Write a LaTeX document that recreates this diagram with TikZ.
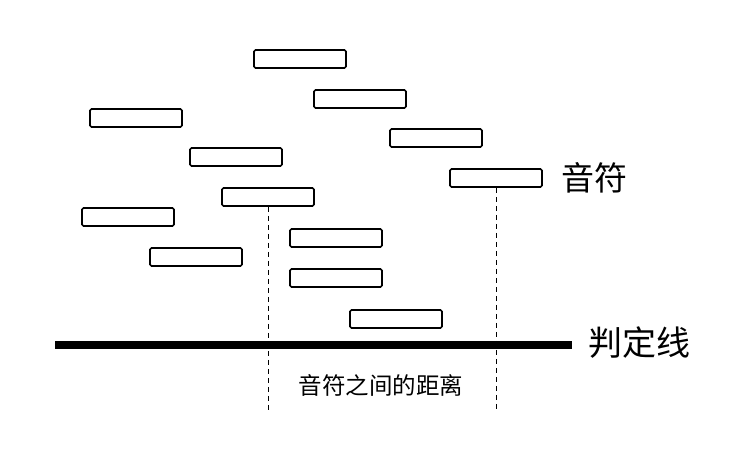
\documentclass[tikz,border=0pt]{standalone}
\usepackage{fontspec}
\newfontfamily\cjk{Noto Sans CJK SC}
\usetikzlibrary{positioning}
\tikzset{
  notebox/.style={draw, line width=1.6pt, rounded corners=1.5pt, minimum width=92pt, minimum height=18pt, inner sep=0pt},
  gapline/.style={line width=1pt, dash pattern=on 5pt off 4pt}
}

\begin{document}
\begin{tikzpicture}[x=1pt, y=-1pt]
  \useasboundingbox (0,0) rectangle (752,464);
  % notes falling towards the line
  \foreach \i/\x/\y in {1/300/59, 2/360/99, 3/136/118, 4/436/138, 5/236/157, 6/496/178,
                        7/268/197, 8/128/217, 9/336/238, 10/196/257, 11/336/278, 12/396/319}
    \node[notebox] (n\i) at (\x,\y) {};
  \node[anchor=west, inner sep=0pt, font=\cjk\fontsize{33}{36}\selectfont] (notelabel) at (561,178) {音符};
  % judgement line
  \coordinate (lineL) at (55,345);
  \coordinate (lineR) at (572,345);
  \draw[line width=8pt] (lineL) -- (lineR);
  \node[anchor=west, inner sep=0pt, font=\cjk\fontsize{34}{38}\selectfont] (judge) at (588,343) {判定线};
  % distance between the two notes
  \coordinate (endA) at (n7.south |- 0,412);
  \coordinate (endB) at (n6.south |- 0,412);
  \draw[gapline] (n7.south) -- (endA);
  \draw[gapline] (n6.south) -- (endB);
  \node[font=\cjk\fontsize{23.5}{26}\selectfont] (gaplabel) at (381,385) {音符之间的距离};
\end{tikzpicture}
\end{document}
